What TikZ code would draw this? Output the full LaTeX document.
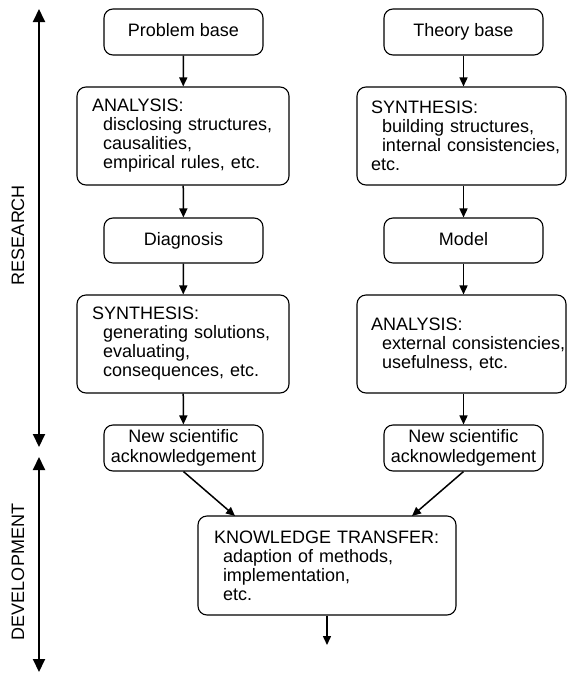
\documentclass[tikz,border=0pt]{standalone}
\usepackage{fontspec}
\setmainfont{Liberation Sans}
\usetikzlibrary{arrows.meta}
\tikzset{
  base/.style={font=\fontsize{18}{19}\selectfont},
  box/.style={base, draw, line width=1.1pt, rounded corners=9pt, inner sep=0pt, align=center},
  onebox/.style={box, text height=13pt, text depth=4pt},
  bigbox/.style={box, align=left, inner xsep=15pt},
  conn/.style={line width=1.5pt, -{Triangle[length=9pt,width=8pt]}},
  side/.style={line width=2pt, {Triangle[length=13pt,width=12pt]}-{Triangle[length=13pt,width=12pt]}},
  sidelabel/.style={base, rotate=90}
}
\newcommand{\ind}[1]{\mbox{\hspace*{11pt}#1}}
\newcommand{\indk}[1]{\mbox{\hspace*{9pt}#1}}
\begin{document}
\begin{tikzpicture}[x=1pt,y=-1pt]
\useasboundingbox (0,0) rectangle (567,673);
% left column
\node[onebox, minimum width=159pt, minimum height=46pt] (pb) at (183.5,32) {Problem base};
\node[bigbox, minimum width=212pt, minimum height=98pt, text width=182pt] (an) at (183,136)
  {ANALYSIS:\\\ind{disclosing structures,}\\\ind{causalities,}\\\ind{empirical rules, etc.}};
\node[onebox, minimum width=159pt, minimum height=45pt] (dg) at (183.5,240.5) {Diagnosis};
\node[bigbox, minimum width=212pt, minimum height=98pt, text width=182pt] (sy2) at (183,344)
  {SYNTHESIS:\\\ind{generating solutions,}\\\ind{evaluating,}\\\ind{consequences, etc.}};
\node[box, minimum width=159pt, minimum height=46pt, font=\fontsize{18}{20}\selectfont] (ns1) at (183.5,448) {New scientific\\acknowledgement};
% right column
\node[onebox, minimum width=159pt, minimum height=46pt] (tb) at (463.5,32) {Theory base};
\node[bigbox, minimum width=209pt, minimum height=98pt, text width=181pt, inner xsep=14pt] (sy) at (461.5,136)
  {SYNTHESIS:\\\ind{building structures,}\\\ind{internal consistencies,}\\etc.};
\node[onebox, minimum width=159pt, minimum height=45pt] (md) at (463.5,240.5) {Model};
\node[bigbox, minimum width=209pt, minimum height=98pt, text width=181pt, inner xsep=14pt] (an2) at (461.5,344)
  {ANALYSIS:\\\ind{external consistencies,}\\\ind{usefulness, etc.}};
\node[box, minimum width=159pt, minimum height=46pt, font=\fontsize{18}{20}\selectfont] (ns2) at (463.5,448) {New scientific\\acknowledgement};
% bottom
\node[bigbox, minimum width=258pt, minimum height=99pt, text width=226pt, inner xsep=16pt] (kt) at (327,565.5)
  {KNOWLEDGE TRANSFER:\\\indk{adaption of methods,}\\\indk{implementation,}\\\indk{etc.}};
\coordinate (out) at (327,645);
% connectors
\draw[conn] (pb) -- (an);
\draw[conn] (an) -- (dg);
\draw[conn] (dg) -- (sy2);
\draw[conn] (sy2) -- (ns1);
\draw[conn] (tb.south) -- (tb.south |- sy.north);
\draw[conn] (sy.south -| md.south) -- (md.north);
\draw[conn] (md.south) -- (md.south |- an2.north);
\draw[conn] (an2.south -| ns2.north) -- (ns2.north);
\draw[conn] (ns1.south) -- (235,516);
\draw[conn] (ns2.south) -- (412,516);
\draw[conn] (kt.south) -- (out);
% side arrows
\coordinate (r1) at (39,9);
\coordinate (r2) at (39,447);
\coordinate (d1) at (39,457);
\coordinate (d2) at (39,672);
\draw[side] (r1) -- (r2);
\draw[side] (d1) -- (d2);
\node[sidelabel] (rl) at (18,235) {RESEARCH};
\node[sidelabel] (dl) at (18,572) {DEVELOPMENT};
\end{tikzpicture}
\end{document}
